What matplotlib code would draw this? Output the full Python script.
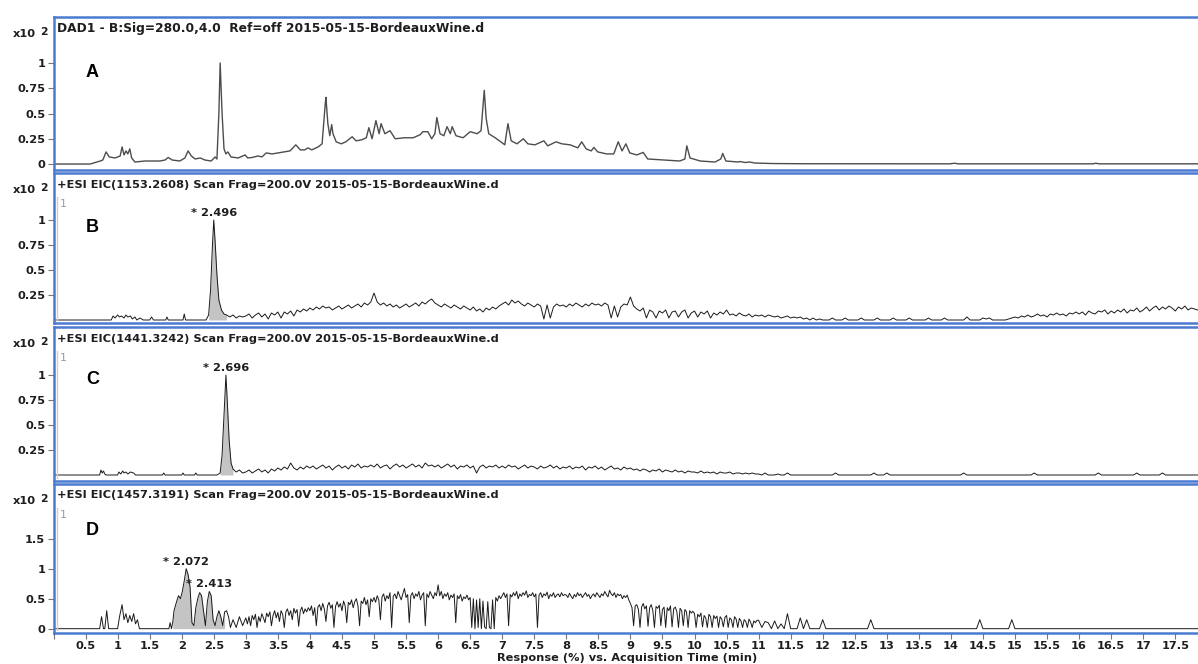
import numpy as np
import matplotlib
matplotlib.use("Agg")
import matplotlib.pyplot as plt

plt.rcParams["font.family"] = ["DejaVu Sans"]

# ---- values (time in min, response in units of x10^2 %) ----
HEADERS = [
    "DAD1 - B:Sig=280.0,4.0  Ref=off 2015-05-15-BordeauxWine.d",
    "+ESI EIC(1153.2608) Scan Frag=200.0V 2015-05-15-BordeauxWine.d",
    "+ESI EIC(1441.3242) Scan Frag=200.0V 2015-05-15-BordeauxWine.d",
    "+ESI EIC(1457.3191) Scan Frag=200.0V 2015-05-15-BordeauxWine.d",
]
PANEL_LETTERS = ["A", "B", "C", "D"]
Y_TICKS = [[0, 0.25, 0.5, 0.75, 1], [0.25, 0.5, 0.75, 1], [0.25, 0.5, 0.75, 1], [0, 0.5, 1, 1.5]]
Y_LIMS = [(-0.059, 1.458), (-0.035, 1.47), (-0.06, 1.48), (-0.072, 2.42)]
X_TICKS = [i * 0.5 for i in range(36)]

# A: DAD 280 nm trace
A_TIME = [0.0, 0.57, 0.68, 0.73, 0.77, 0.82, 0.87, 0.96, 1.04, 1.07, 1.10, 1.13, 1.16, 1.19, 1.22,
          1.27, 1.43, 1.66, 1.74, 1.79, 1.85, 1.97, 2.05, 2.10, 2.15, 2.21, 2.29, 2.36, 2.46, 2.52,
          2.55, 2.58, 2.60, 2.63, 2.66, 2.69, 2.72, 2.77, 2.88, 2.99, 3.03, 3.10, 3.19, 3.25, 3.32,
          3.41, 3.50, 3.60, 3.69, 3.78, 3.85, 3.92, 3.97, 4.03, 4.13, 4.19, 4.24, 4.25, 4.28, 4.31,
          4.34, 4.36, 4.41, 4.49, 4.56, 4.66, 4.72, 4.81, 4.88, 4.92, 4.97, 5.03, 5.08, 5.11, 5.17,
          5.25, 5.33, 5.48, 5.61, 5.72, 5.76, 5.84, 5.90, 5.95, 5.98, 6.03, 6.09, 6.14, 6.19, 6.22,
          6.28, 6.39, 6.50, 6.61, 6.67, 6.72, 6.75, 6.79, 6.89, 7.00, 7.04, 7.09, 7.14, 7.23, 7.33,
          7.40, 7.51, 7.65, 7.71, 7.84, 7.93, 8.06, 8.18, 8.24, 8.31, 8.39, 8.43, 8.49, 8.63, 8.74,
          8.81, 8.87, 8.93, 8.99, 9.10, 9.20, 9.27, 9.51, 9.77, 9.85, 9.88, 9.93, 10.09, 10.32, 10.41,
          10.44, 10.49, 10.68, 10.71, 10.79, 10.86, 10.94, 11.22, 11.65, 13.98, 14.06, 14.11, 16.22,
          16.26, 16.31, 17.85]
A_SIGNAL = [0.0, 0.0, 0.02, 0.03, 0.04, 0.12, 0.07, 0.06, 0.08, 0.17, 0.09, 0.13, 0.10, 0.15, 0.06,
            0.02, 0.03, 0.03, 0.04, 0.065, 0.04, 0.03, 0.06, 0.13, 0.08, 0.05, 0.06, 0.04, 0.03, 0.07,
            0.05, 0.50, 1.00, 0.50, 0.15, 0.10, 0.12, 0.07, 0.06, 0.09, 0.06, 0.065, 0.08, 0.07, 0.11,
            0.10, 0.11, 0.12, 0.13, 0.19, 0.14, 0.14, 0.16, 0.14, 0.17, 0.20, 0.60, 0.66, 0.40, 0.28,
            0.39, 0.30, 0.22, 0.20, 0.22, 0.27, 0.23, 0.24, 0.26, 0.36, 0.25, 0.43, 0.30, 0.40, 0.30,
            0.33, 0.25, 0.26, 0.26, 0.29, 0.32, 0.32, 0.25, 0.30, 0.46, 0.30, 0.28, 0.37, 0.30, 0.37,
            0.28, 0.26, 0.32, 0.30, 0.33, 0.73, 0.45, 0.30, 0.26, 0.21, 0.19, 0.40, 0.23, 0.20, 0.25,
            0.20, 0.19, 0.23, 0.18, 0.22, 0.20, 0.19, 0.16, 0.22, 0.15, 0.13, 0.165, 0.12, 0.10, 0.10,
            0.22, 0.13, 0.20, 0.11, 0.09, 0.115, 0.05, 0.04, 0.03, 0.05, 0.18, 0.06, 0.03, 0.02, 0.05,
            0.105, 0.03, 0.02, 0.025, 0.015, 0.02, 0.01, 0.005, 0.003, 0.002, 0.008, 0.002, 0.002,
            0.008, 0.002, 0.002]

# B: EIC 1153.2608 (early part by hand, then sampled every 0.05 min from 3.0 min)
B_EARLY_TIME = [0.0, 0.90, 0.93, 0.96, 1.00, 1.03, 1.06, 1.10, 1.13, 1.16, 1.20, 1.23, 1.27, 1.30,
                1.35, 1.40, 1.50, 1.53, 1.56, 1.75, 1.77, 1.79, 2.02, 2.04, 2.06, 2.38, 2.42, 2.45,
                2.48, 2.50, 2.52, 2.55, 2.58, 2.62, 2.66, 2.70, 2.75, 2.80, 2.85, 2.90, 2.95]
B_EARLY_SIGNAL = [0, 0, 0.04, 0.02, 0.05, 0.03, 0.04, 0.02, 0.05, 0.03, 0.04, 0.01, 0.03, 0,
                  0.02, 0, 0, 0.03, 0, 0, 0.03, 0, 0, 0.06, 0, 0, 0.05, 0.30,
                  0.75, 1.00, 0.80, 0.45, 0.20, 0.10, 0.06, 0.05, 0.03, 0.05, 0.02, 0.04, 0.03]
B_NOISE_START, B_NOISE_STEP = 3.0, 0.05
B_NOISE = [
    0.04, 0.06, 0.02, 0.05, 0.07, 0.03, 0.06, 0.01, 0.07, 0.05, 0.08, 0.02, 0.08, 0.06, 0.09, 0.04, 0.10, 0.08, 0.11, 0.09,
    0.12, 0.10, 0.13, 0.11, 0.14, 0.12, 0.13, 0.10, 0.12, 0.14, 0.11, 0.13, 0.15, 0.12, 0.14, 0.16, 0.13, 0.17, 0.15, 0.18,
    0.27, 0.18, 0.15, 0.17, 0.14, 0.16, 0.13, 0.15, 0.12, 0.14, 0.16, 0.13, 0.15, 0.17, 0.14, 0.18, 0.16, 0.19, 0.21, 0.17,
    0.15, 0.13, 0.16, 0.14, 0.12, 0.15, 0.13, 0.11, 0.14, 0.12, 0.10, 0.13, 0.09, 0.11, 0.08, 0.12, 0.10, 0.13, 0.11, 0.14,
    0.16, 0.18, 0.15, 0.20, 0.17, 0.19, 0.16, 0.14, 0.17, 0.15, 0.13, 0.16, 0.14, 0.01, 0.15, 0.02, 0.13, 0.16, 0.14, 0.15,
    0.13, 0.16, 0.14, 0.17, 0.15, 0.13, 0.16, 0.14, 0.17, 0.15, 0.16, 0.14, 0.17, 0.15, 0.02, 0.14, 0.03, 0.13, 0.16, 0.15,
    0.23, 0.14, 0.11, 0.09, 0.12, 0.02, 0.10, 0.08, 0.02, 0.09, 0.07, 0.10, 0.02, 0.08, 0.09, 0.03, 0.08, 0.10, 0.02, 0.07,
    0.09, 0.03, 0.08, 0.06, 0.09, 0.02, 0.07, 0.05, 0.08, 0.06, 0.10, 0.05, 0.06, 0.04, 0.07, 0.05, 0.04, 0.06, 0.03, 0.05,
    0.04, 0.05, 0.03, 0.05, 0.04, 0.03, 0.04, 0.02, 0.03, 0.04, 0.02, 0.03, 0.02, 0.03, 0.01, 0.02, 0.00, 0.02, 0.00, 0.01,
    0, 0, 0, 0.02, 0, 0, 0, 0.02, 0, 0, 0, 0, 0.02, 0, 0, 0, 0, 0.02, 0, 0,
    0, 0, 0.02, 0, 0, 0, 0, 0.02, 0, 0, 0, 0, 0, 0.02, 0, 0, 0, 0, 0.02, 0,
    0, 0, 0, 0, 0, 0.03, 0, 0, 0, 0, 0.02, 0.01, 0.02, 0, 0, 0, 0, 0, 0.01, 0.02,
    0.03, 0.02, 0.04, 0.03, 0.05, 0.03, 0.04, 0.06, 0.04, 0.05, 0.03, 0.06, 0.05, 0.07, 0.05, 0.06, 0.04, 0.07, 0.06, 0.08,
    0.06, 0.08, 0.05, 0.09, 0.07, 0.06, 0.09, 0.08, 0.10, 0.06, 0.09, 0.07, 0.10, 0.08, 0.11, 0.07, 0.10, 0.09, 0.12, 0.08,
    0.10, 0.13, 0.09, 0.12, 0.14, 0.10, 0.13, 0.11, 0.14, 0.12, 0.09, 0.13, 0.11, 0.14, 0.10, 0.12, 0.11, 0.10,
]

# C: EIC 1441.3242
C_EARLY_TIME = [0.0, 0.72, 0.74, 0.76, 0.78, 0.80, 0.82, 1.00, 1.02, 1.05, 1.08, 1.10, 1.13, 1.16,
                1.20, 1.25, 1.28, 1.30, 1.70, 1.72, 1.74, 2.00, 2.02, 2.04, 2.20, 2.22, 2.24, 2.55,
                2.60, 2.63, 2.66, 2.69, 2.71, 2.74, 2.77, 2.80, 2.85, 2.90, 2.95]
C_EARLY_SIGNAL = [0, 0, 0.05, 0.02, 0.04, 0.01, 0, 0, 0.03, 0.01, 0.04, 0.02, 0.03, 0.01,
                  0.03, 0.02, 0, 0, 0, 0.02, 0, 0, 0.02, 0, 0, 0.02, 0, 0,
                  0.02, 0.20, 0.60, 1.00, 0.75, 0.35, 0.12, 0.06, 0.03, 0.05, 0.02]
C_NOISE_START, C_NOISE_STEP = 3.0, 0.05
C_NOISE = [
    0.03, 0.05, 0.02, 0.04, 0.06, 0.03, 0.05, 0.02, 0.06, 0.04, 0.07, 0.05, 0.08, 0.06, 0.12, 0.07, 0.05, 0.08, 0.06, 0.09,
    0.07, 0.09, 0.06, 0.08, 0.10, 0.07, 0.09, 0.05, 0.08, 0.10, 0.07, 0.09, 0.06, 0.10, 0.08, 0.11, 0.07, 0.09, 0.08, 0.10,
    0.08, 0.11, 0.07, 0.09, 0.10, 0.06, 0.09, 0.11, 0.08, 0.10, 0.07, 0.09, 0.11, 0.08, 0.10, 0.07, 0.12, 0.09, 0.10, 0.08,
    0.10, 0.07, 0.09, 0.11, 0.08, 0.10, 0.06, 0.09, 0.08, 0.10, 0.07, 0.09, 0.02, 0.08, 0.10, 0.07, 0.09, 0.08, 0.10, 0.07,
    0.09, 0.07, 0.10, 0.08, 0.09, 0.06, 0.08, 0.10, 0.07, 0.09, 0.08, 0.06, 0.09, 0.07, 0.08, 0.10, 0.07, 0.09, 0.06, 0.08,
    0.07, 0.09, 0.06, 0.08, 0.07, 0.09, 0.05, 0.08, 0.07, 0.09, 0.06, 0.08, 0.05, 0.07, 0.09, 0.06, 0.07, 0.05, 0.08, 0.06,
    0.07, 0.05, 0.06, 0.04, 0.06, 0.05, 0.03, 0.05, 0.04, 0.06, 0.03, 0.05, 0.04, 0.03, 0.05, 0.03, 0.04, 0.02, 0.04, 0.03,
    0.03, 0.02, 0.04, 0.02, 0.03, 0.02, 0.03, 0.01, 0.03, 0.02, 0.02, 0.03, 0.01, 0.02, 0.02, 0.01, 0.02, 0.01, 0.02, 0.01,
    0.01, 0, 0.02, 0, 0, 0, 0.01, 0, 0, 0.02, 0, 0, 0, 0, 0, 0, 0, 0, 0, 0,
    0, 0, 0, 0, 0.02, 0, 0, 0, 0, 0, 0, 0, 0, 0, 0, 0, 0.02, 0, 0, 0,
    0.02, 0, 0, 0, 0, 0, 0, 0, 0, 0, 0, 0, 0, 0, 0, 0, 0, 0, 0, 0,
    0, 0, 0, 0, 0.02, 0, 0, 0, 0, 0, 0, 0, 0, 0, 0, 0, 0, 0, 0, 0,
    0, 0, 0, 0, 0, 0, 0.02, 0, 0, 0, 0, 0, 0, 0, 0, 0, 0, 0, 0, 0,
    0, 0, 0, 0, 0, 0, 0.02, 0, 0, 0, 0, 0, 0, 0, 0, 0, 0, 0, 0.02, 0,
    0, 0, 0, 0, 0, 0, 0.02, 0, 0, 0, 0, 0, 0, 0, 0, 0, 0, 0,
]

# D: EIC 1457.3191 (dense noise sampled every 0.025 min from 3.0 min, tail every 0.05 min from 11.0)
D_EARLY_TIME = [0.0, 0.72, 0.75, 0.78, 0.80, 0.83, 0.86, 0.90, 1.00, 1.03, 1.07, 1.10, 1.13, 1.16,
                1.19, 1.22, 1.25, 1.28, 1.31, 1.34, 1.80, 1.82, 1.84, 1.86, 1.88, 1.92, 1.95, 1.98,
                2.01, 2.04, 2.07, 2.10, 2.13, 2.16, 2.19, 2.22, 2.25, 2.28, 2.31, 2.34, 2.37, 2.40,
                2.43, 2.46, 2.49, 2.52, 2.55, 2.58, 2.61, 2.64, 2.67, 2.70, 2.73, 2.76, 2.80, 2.85,
                2.90, 2.95]
D_EARLY_SIGNAL = [0, 0, 0.20, 0, 0, 0.30, 0, 0, 0, 0.20, 0.40, 0.15, 0.25, 0.10,
                  0.22, 0.12, 0.25, 0.08, 0.15, 0, 0, 0.10, 0, 0.10, 0.30, 0.45, 0.55, 0.50,
                  0.62, 0.80, 1.00, 0.90, 0.70, 0.10, 0.05, 0.35, 0.50, 0.60, 0.55, 0.30, 0.05, 0.45,
                  0.62, 0.55, 0.15, 0.05, 0.20, 0.30, 0.20, 0.05, 0.28, 0.30, 0.20, 0.02, 0.15, 0.02,
                  0.20, 0.05]
D_NOISE_START, D_NOISE_STEP = 3.0, 0.025
D_NOISE = [
    0.18, 0.08, 0.20, 0.05, 0.22, 0.15, 0.24, 0.02, 0.20, 0.12, 0.25, 0.18, 0.10, 0.26, 0.20, 0.28, 0.05, 0.22, 0.30, 0.18,
    0.27, 0.12, 0.30, 0.24, 0.02, 0.28, 0.33, 0.22, 0.30, 0.15, 0.34, 0.26, 0.32, 0.04, 0.30, 0.36, 0.25, 0.33, 0.28, 0.35,
    0.30, 0.38, 0.22, 0.35, 0.05, 0.36, 0.40, 0.30, 0.42, 0.33, 0.12, 0.38, 0.44, 0.34, 0.40, 0.02, 0.37, 0.45, 0.36, 0.42,
    0.30, 0.46, 0.38, 0.10, 0.44, 0.40, 0.48, 0.35, 0.45, 0.50, 0.38, 0.05, 0.46, 0.42, 0.52, 0.40, 0.48, 0.20, 0.50, 0.45,
    0.52, 0.44, 0.55, 0.48, 0.15, 0.53, 0.58, 0.46, 0.55, 0.50, 0.60, 0.02, 0.54, 0.58, 0.50, 0.62, 0.55, 0.48, 0.58, 0.67,
    0.52, 0.57, 0.10, 0.55, 0.60, 0.50, 0.58, 0.54, 0.62, 0.48, 0.56, 0.60, 0.05, 0.58, 0.52, 0.62, 0.56, 0.50, 0.60, 0.55,
    0.73, 0.55, 0.62, 0.50, 0.58, 0.54, 0.60, 0.48, 0.56, 0.52, 0.58, 0.10, 0.55, 0.50, 0.57, 0.46, 0.53, 0.50, 0.56, 0.48,
    0.52, 0.02, 0.50, 0.00, 0.48, 0.02, 0.50, 0.00, 0.46, 0.03, 0.00, 0.45, 0.02, 0.00, 0.48, 0.00, 0.52, 0.46, 0.55, 0.50,
    0.55, 0.60, 0.52, 0.58, 0.05, 0.57, 0.53, 0.60, 0.55, 0.62, 0.50, 0.58, 0.54, 0.60, 0.56, 0.63, 0.52, 0.57, 0.55, 0.60,
    0.53, 0.58, 0.02, 0.56, 0.60, 0.52, 0.58, 0.55, 0.61, 0.50, 0.57, 0.54, 0.60, 0.52, 0.56, 0.58, 0.53, 0.60, 0.55, 0.57,
    0.56, 0.52, 0.59, 0.54, 0.50, 0.57, 0.53, 0.60, 0.55, 0.58, 0.52, 0.56, 0.60, 0.54, 0.57, 0.50, 0.55, 0.58, 0.53, 0.60,
    0.56, 0.52, 0.58, 0.55, 0.62, 0.57, 0.53, 0.64, 0.58, 0.55, 0.60, 0.52, 0.58, 0.55, 0.57, 0.50, 0.55, 0.52, 0.56, 0.48,
    0.42, 0.35, 0.05, 0.38, 0.40, 0.32, 0.02, 0.36, 0.42, 0.33, 0.38, 0.04, 0.35, 0.40, 0.30, 0.02, 0.37, 0.34, 0.39, 0.05,
    0.32, 0.36, 0.02, 0.35, 0.30, 0.38, 0.03, 0.33, 0.36, 0.28, 0.02, 0.34, 0.30, 0.05, 0.32, 0.28, 0.02, 0.30, 0.26, 0.29,
    0.25, 0.02, 0.24, 0.20, 0.26, 0.03, 0.22, 0.18, 0.02, 0.24, 0.20, 0.02, 0.22, 0.17, 0.21, 0.02, 0.20, 0.16, 0.03, 0.19,
    0.22, 0.02, 0.18, 0.15, 0.02, 0.20, 0.16, 0.02, 0.17, 0.13, 0.02, 0.15, 0.12, 0.02, 0.16, 0.11, 0.02, 0.13, 0.10, 0.14,
]
D_TAIL_START, D_TAIL_STEP = 11.0, 0.05
D_TAIL = [
    0.14, 0.02, 0.12, 0.10, 0.00, 0.13, 0.00, 0.08, 0.00, 0.25, 0.00, 0.00, 0.00, 0.18, 0.00, 0.15, 0.00, 0.00, 0.00, 0.00,
    0.15, 0, 0, 0, 0, 0, 0, 0, 0, 0, 0, 0, 0, 0, 0, 0.15, 0, 0, 0, 0,
    0, 0, 0, 0, 0, 0, 0, 0, 0, 0, 0, 0, 0, 0, 0, 0, 0, 0, 0, 0,
    0, 0, 0, 0, 0, 0, 0, 0, 0, 0.15, 0, 0, 0, 0, 0, 0, 0, 0, 0, 0.15,
    0, 0, 0, 0, 0, 0, 0, 0, 0, 0, 0, 0, 0, 0, 0, 0, 0, 0, 0, 0,
    0, 0, 0, 0, 0, 0, 0, 0, 0, 0, 0, 0, 0, 0, 0, 0, 0, 0, 0, 0,
    0, 0, 0, 0, 0, 0, 0, 0, 0, 0, 0, 0, 0, 0, 0, 0, 0, 0,
]

# integrated peak windows (min) and peak labels (apex time, apex height, label)
FILL_WINDOWS = [None, (2.40, 2.70), (2.58, 2.82), (1.86, 2.68)]
PEAK_LABELS = [
    [],
    [(2.50, 1.00, "* 2.496")],
    [(2.69, 1.00, "* 2.696")],
    [(2.07, 1.00, "* 2.072"), (2.43, 0.62, "* 2.413")],
]


def sampled(start, step, values):
    return start + step * np.arange(len(values)), np.asarray(values, dtype=float)


def join(*parts):
    return (np.concatenate([np.asarray(p[0], dtype=float) for p in parts]),
            np.concatenate([np.asarray(p[1], dtype=float) for p in parts]))


traces = [
    (np.array(A_TIME), np.array(A_SIGNAL)),
    join((B_EARLY_TIME, B_EARLY_SIGNAL), sampled(B_NOISE_START, B_NOISE_STEP, B_NOISE)),
    join((C_EARLY_TIME, C_EARLY_SIGNAL), sampled(C_NOISE_START, C_NOISE_STEP, C_NOISE)),
    join((D_EARLY_TIME, D_EARLY_SIGNAL), sampled(D_NOISE_START, D_NOISE_STEP, D_NOISE),
         sampled(D_TAIL_START, D_TAIL_STEP, D_TAIL)),
]

W, H = 1198, 664
BLUE = "#4a7bd0"
TXT = "#1e1e1e"
FS = 8.2
HEADER_FS = [8.8, FS, FS, FS]
BOXES = [(16.7, 170), (173, 323.5), (327, 481), (483.5, 633)]   # panel top/bottom in px
LETTER_DROP = [56, 55, 52, 47]
LEFT = 53.5

fig = plt.figure(figsize=(W / 100, H / 100), dpi=100)
for i, (top, bot) in enumerate(BOXES):
    ax = fig.add_axes([LEFT / W, 1 - bot / H, (W - LEFT + 3) / W, (bot - top) / H])
    t, v = traces[i]
    if i == 0:
        ax.plot(t, v, color="#4d4d4d", lw=1.0)
    else:
        win = FILL_WINDOWS[i]
        m = (t >= win[0]) & (t <= win[1])
        ax.fill_between(t[m], 0, v[m], color="#c4c4c4", lw=0)
        ax.plot(t, v, color="#1a1a1a", lw=0.7)
        ax.text(6 / (W - LEFT), 1 - 31 / (bot - top), "1", transform=ax.transAxes,
                fontsize=8, color="#9a9a9a", ha="left", va="center")
        ax.plot([3.8 / (W - LEFT)] * 2, [0.02, 1 - 24 / (bot - top)], transform=ax.transAxes,
                color="#cfcfcf", lw=1.0)
    for (pt, pv, lab) in PEAK_LABELS[i]:
        ax.annotate(lab, xy=(pt, pv), xytext=(0, 2), textcoords="offset pixels",
                    ha="center", va="bottom", fontsize=FS, fontweight="bold", color=TXT)

    ax.set_xlim(0, (W - LEFT + 3) / 64.1)
    ax.set_ylim(*Y_LIMS[i])
    ax.set_yticks(Y_TICKS[i])
    ax.set_yticklabels([f"{y:g}" for y in Y_TICKS[i]])
    ax.tick_params(axis="y", direction="out", length=4, width=0.8, color="#777777",
                   labelsize=FS, labelcolor=TXT, pad=2)
    for lab in ax.get_yticklabels():
        lab.set_fontweight("bold")
    if i == 3:
        ax.set_xticks(X_TICKS)
        ax.set_xticklabels([""] + [f"{x:g}" for x in X_TICKS[1:]])
        ax.tick_params(axis="x", direction="out", length=4, width=0.8, color="#777777",
                       labelsize=FS, labelcolor=TXT, pad=2)
        for lab in ax.get_xticklabels():
            lab.set_fontweight("bold")
        ax.set_xlabel("Response (%) vs. Acquisition Time (min)", fontsize=FS,
                      fontweight="bold", color=TXT, labelpad=1)
    else:
        ax.set_xticks([])
    for s in ax.spines.values():
        s.set_color(BLUE)
        s.set_linewidth(1.8)

    ax.annotate(HEADERS[i], xy=(0, 1), xycoords="axes fraction", xytext=(3.5, -12),
                textcoords="offset pixels", ha="left", va="center", fontsize=HEADER_FS[i],
                fontweight="bold", color=TXT)
    ax.annotate(PANEL_LETTERS[i], xy=(0, 1), xycoords="axes fraction",
                xytext=(39, -LETTER_DROP[i]), textcoords="offset pixels", ha="center",
                va="center", fontsize=13, fontweight="bold",
                family=["Liberation Sans", "DejaVu Sans"])

    fig.text(13 / W, 1 - (top + 17) / H, "x10", fontsize=FS, fontweight="bold",
             color=TXT, ha="left", va="center")
    fig.text(40 / W, 1 - (top + 15) / H, "2", fontsize=7.8, fontweight="bold",
             color=TXT, ha="left", va="center")

fig.savefig("out.png", dpi=100)
